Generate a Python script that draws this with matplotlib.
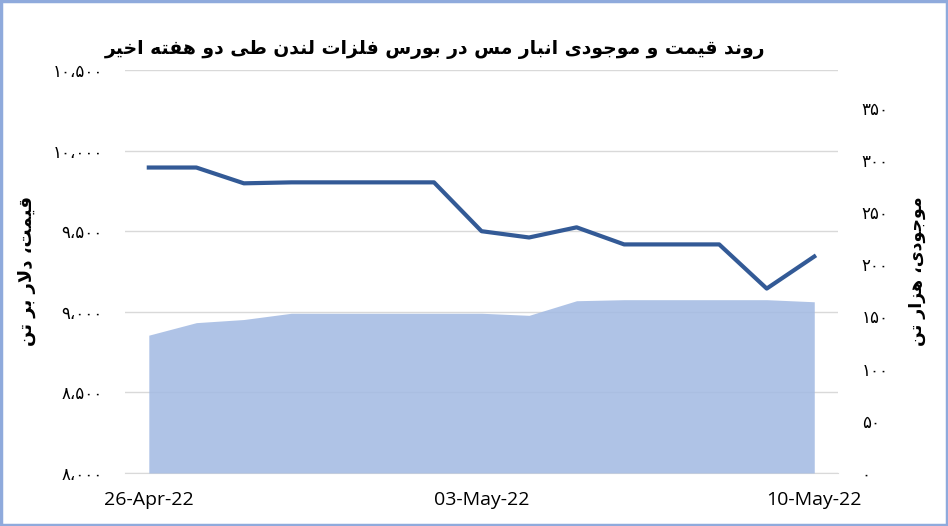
import matplotlib
matplotlib.use('Agg')
import matplotlib.pyplot as plt
from matplotlib.patches import Rectangle

# daily values 26-Apr-22 .. 10-May-22
dates = ['26-Apr-22', '27-Apr-22', '28-Apr-22', '29-Apr-22', '30-Apr-22', '01-May-22', '02-May-22',
         '03-May-22', '04-May-22', '05-May-22', '06-May-22', '07-May-22', '08-May-22', '09-May-22',
         '10-May-22']
price = [9895, 9895, 9797, 9803, 9803, 9803, 9803, 9500, 9461, 9524, 9418, 9418, 9418, 9144, 9343]
stock = [132, 144, 147, 153, 153, 153, 153, 153, 151, 165, 166, 166, 166, 166, 164]
xlabels_at = [0, 7, 14]
price_ticks = [8000, 8500, 9000, 9500, 10000, 10500]
stock_ticks = [0, 50, 100, 150, 200, 250, 300, 350]

title = 'روند قیمت و موجودی انبار مس در بورس فلزات لندن طی دو هفته اخیر'
left_label = 'قیمت، دلار بر تن'
right_label = 'موجودی، هزار تن'

# no text shaping in matplotlib -> use presentation forms, reversed
FORMS = {
    'ا': ('\uFE8D', '\uFE8E', None, None),
    'ب': ('\uFE8F', '\uFE90', '\uFE91', '\uFE92'),
    'ت': ('\uFE95', '\uFE96', '\uFE97', '\uFE98'),
    'ج': ('\uFE9D', '\uFE9E', '\uFE9F', '\uFEA0'),
    'خ': ('\uFEA5', '\uFEA6', '\uFEA7', '\uFEA8'),
    'د': ('\uFEA9', '\uFEAA', None, None),
    'ر': ('\uFEAD', '\uFEAE', None, None),
    'ز': ('\uFEAF', '\uFEB0', None, None),
    'س': ('\uFEB1', '\uFEB2', '\uFEB3', '\uFEB4'),
    'ط': ('\uFEC1', '\uFEC2', '\uFEC3', '\uFEC4'),
    'ف': ('\uFED1', '\uFED2', '\uFED3', '\uFED4'),
    'ق': ('\uFED5', '\uFED6', '\uFED7', '\uFED8'),
    'ل': ('\uFEDD', '\uFEDE', '\uFEDF', '\uFEE0'),
    'م': ('\uFEE1', '\uFEE2', '\uFEE3', '\uFEE4'),
    'ن': ('\uFEE5', '\uFEE6', '\uFEE7', '\uFEE8'),
    'ه': ('\uFEE9', '\uFEEA', '\uFEEB', '\uFEEC'),
    'و': ('\uFEED', '\uFEEE', None, None),
    'ی': ('\uFEEF', '\uFEF0', '\uFEF3', '\uFEF4'),
    'لا': ('\uFEFB', '\uFEFC', None, None),
}


def shape(text):
    toks = []
    i = 0
    while i < len(text):
        if text[i] == 'ل' and i + 1 < len(text) and text[i + 1] == 'ا':
            toks.append('لا')
            i += 2
        else:
            toks.append(text[i])
            i += 1
    out = []
    for k, t in enumerate(toks):
        if t not in FORMS:
            out.append(t)
            continue
        f = FORMS[t]
        prev = toks[k - 1] if k > 0 else None
        nxt = toks[k + 1] if k + 1 < len(toks) else None
        jp = prev in FORMS and FORMS[prev][2] is not None
        jn = nxt in FORMS and f[2] is not None
        if jp and jn:
            out.append(f[3])
        elif jp:
            out.append(f[1])
        elif jn:
            out.append(f[2])
        else:
            out.append(f[0])
    return ''.join(reversed(out))


def fa_num(v):
    s = f'{int(v):,}'
    return s.translate(str.maketrans('0123456789,', '۰۱۲۳۴۵۶۷۸۹،'))


fig = plt.figure(figsize=(9.48, 5.26), dpi=100)
fig.patches.append(Rectangle((0.0015, 0.0025), 0.997, 0.995, transform=fig.transFigure,
                             fill=False, edgecolor='#8FAADC', lw=2.5))

ax = fig.add_axes([0.1319, 0.1008, 0.7521, 0.7661])
x = list(range(len(dates)))
ax.set_xlim(-0.5, 14.5)
ax.set_ylim(8000, 10500)
ax.set_yticks(price_ticks)
ax.set_yticklabels([fa_num(v) for v in price_ticks], family='DejaVu Sans', fontsize=12)
ax.grid(axis='y', color='#D9D9D9', lw=1)
ax.set_xticks(xlabels_at)
ax.set_xticklabels([dates[i] for i in xlabels_at], family='Open Sans', fontsize=14)
ax.tick_params(length=0)
ax.tick_params(axis='y', pad=16)
ax.tick_params(axis='x', pad=13)
for s in ['top', 'left', 'right']:
    ax.spines[s].set_visible(False)
ax.spines['bottom'].set_color('#D9D9D9')
ax.set_ylabel(shape(left_label), family='DejaVu Sans', fontsize=13, fontweight='bold', labelpad=12)

# inventory area on right axis
ax2 = ax.twinx()
ax2.fill_between(x, stock, 0, color='#A4BBE3', alpha=0.88, lw=0)
ax2.set_ylim(0, 386)
ax2.set_yticks(stock_ticks)
ax2.set_yticklabels([fa_num(v) for v in stock_ticks], family='DejaVu Sans', fontsize=12)
ax2.tick_params(length=0, pad=17)
for s in ax2.spines.values():
    s.set_visible(False)
ax2.set_ylabel(shape(right_label), family='DejaVu Sans', fontsize=12.5, fontweight='bold',
               rotation=90, labelpad=14)

# price line on top, same scale as left axis
ax3 = ax.twinx()
ax3.set_ylim(ax.get_ylim())
ax3.plot(x, price, color='#335A96', lw=3, solid_joinstyle='round')
ax3.axis('off')

fig.text(0.459, 0.905, shape(title), ha='center', va='center', family='DejaVu Sans',
         fontsize=13.5, fontweight='bold')

fig.savefig('out.png', dpi=100)
